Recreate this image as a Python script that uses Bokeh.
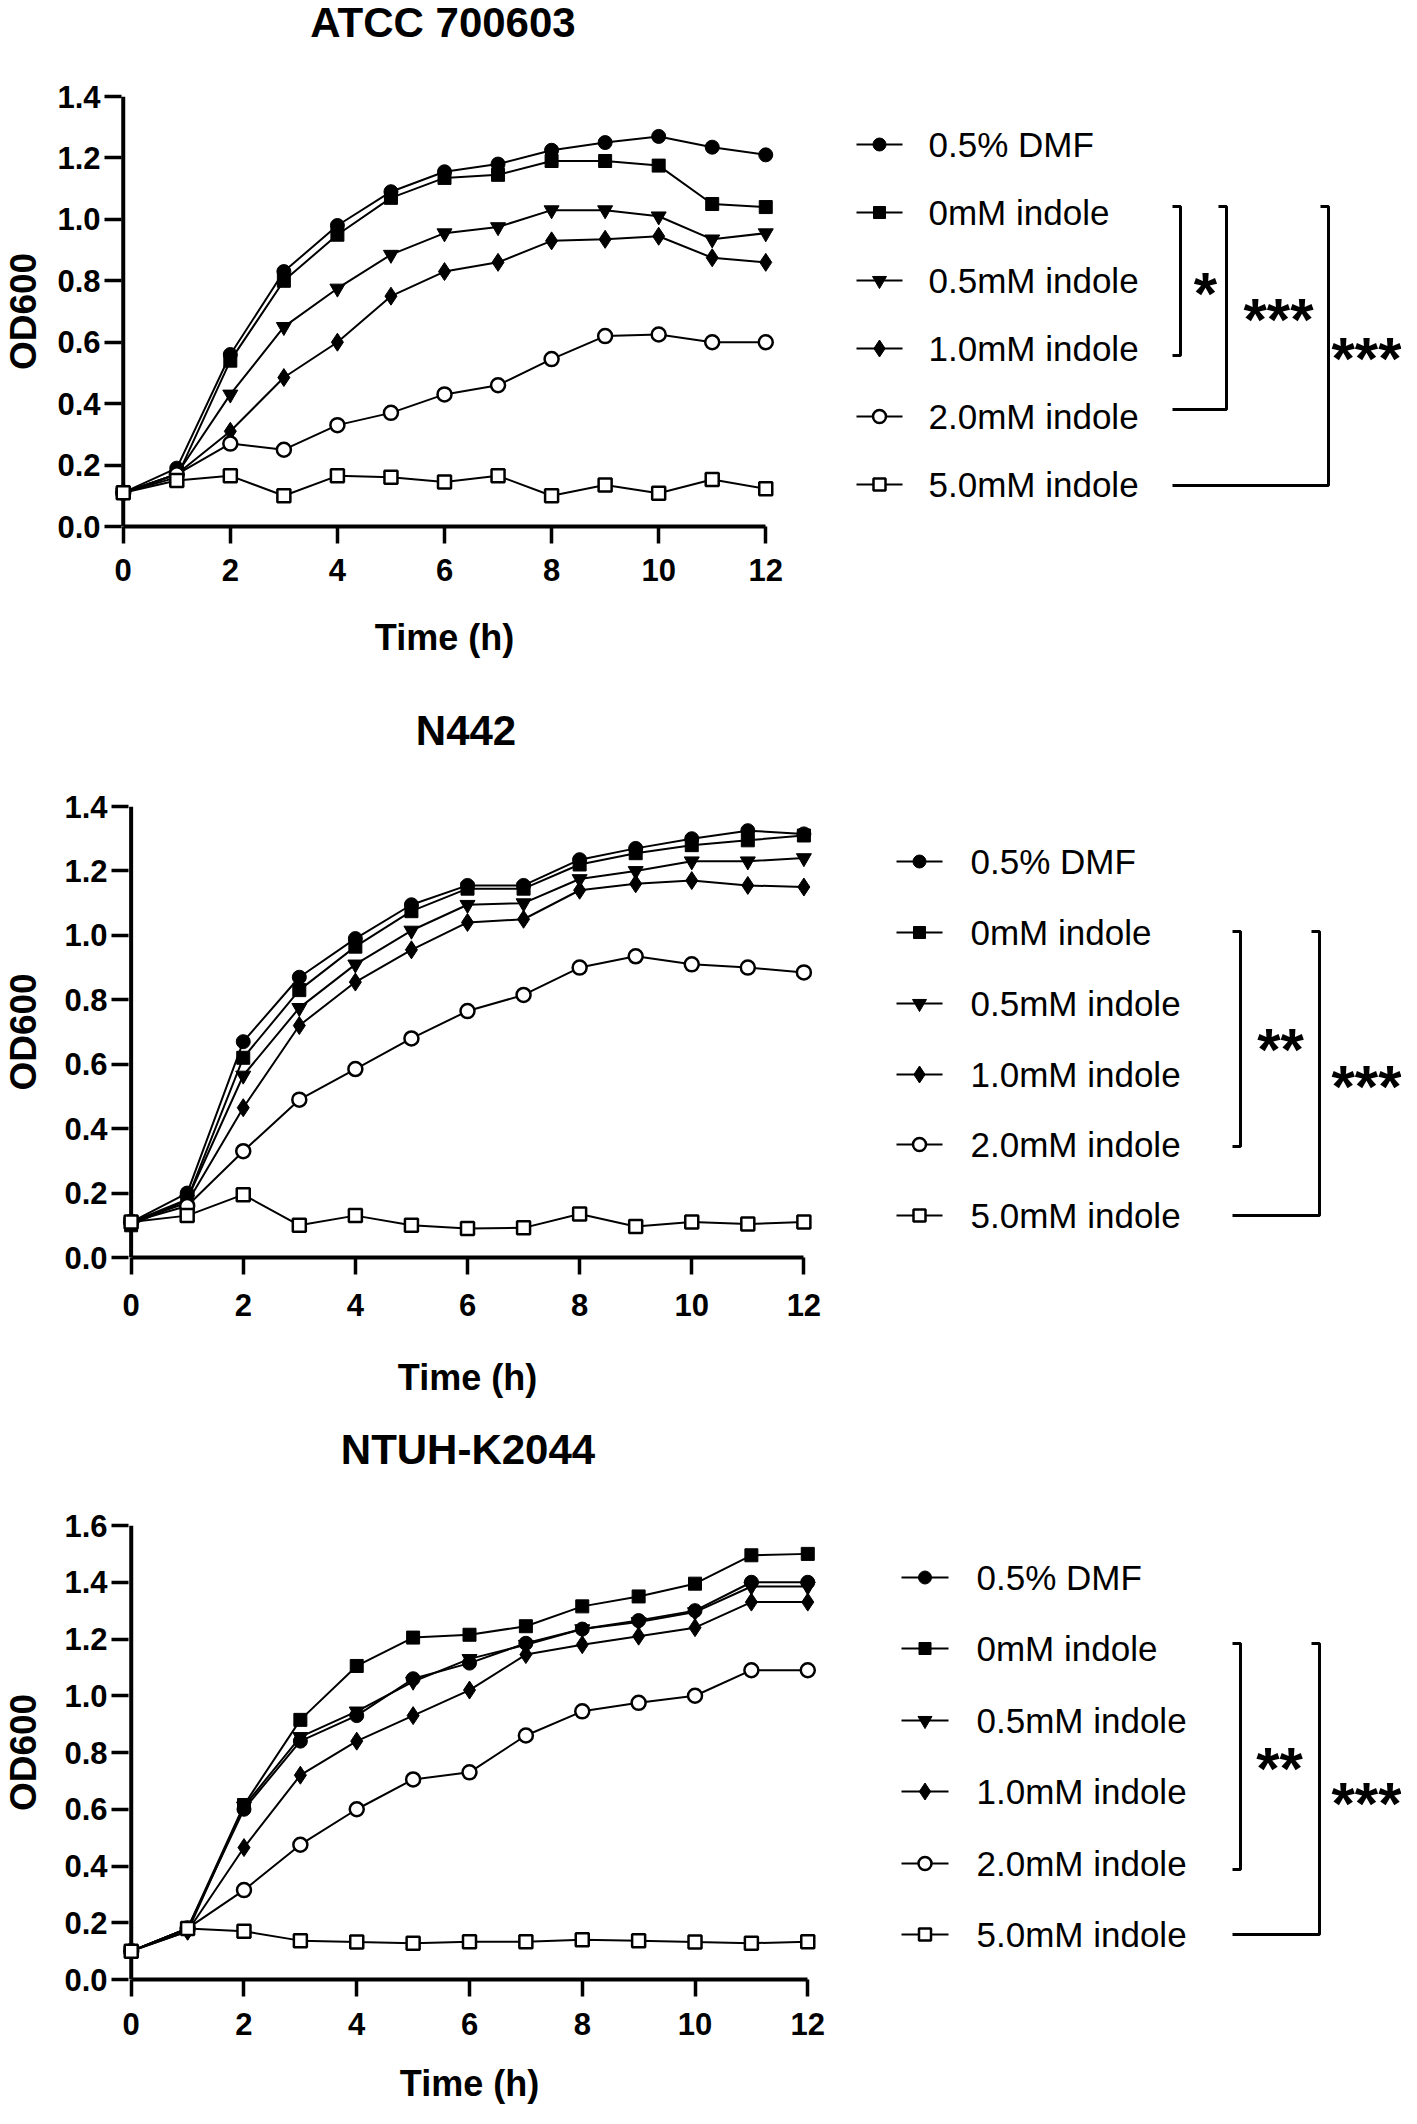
from bokeh.plotting import figure
from bokeh.models import Range1d, FixedTicker, PrintfTickFormatter, Span
from bokeh.layouts import column, row
from bokeh.embed import file_html
from bokeh.resources import INLINE
from bokeh.core.properties import value

# ---------------- data ----------------
hours = list(range(13))
legend_labels = ["0.5% DMF", "0mM indole", "0.5mM indole", "1.0mM indole", "2.0mM indole", "5.0mM indole"]
x_ticks = [0, 2, 4, 6, 8, 10, 12]
y_ticks_14 = [0.0, 0.2, 0.4, 0.6, 0.8, 1.0, 1.2, 1.4]
y_ticks_16 = [0.0, 0.2, 0.4, 0.6, 0.8, 1.0, 1.2, 1.4, 1.6]

atcc_dmf = [0.11, 0.19, 0.56, 0.83, 0.98, 1.09, 1.155, 1.18, 1.225, 1.25, 1.27, 1.235, 1.21]
atcc_i00 = [0.11, 0.16, 0.54, 0.80, 0.95, 1.07, 1.135, 1.145, 1.19, 1.19, 1.175, 1.05, 1.04]
atcc_i05 = [0.11, 0.17, 0.43, 0.65, 0.775, 0.885, 0.955, 0.975, 1.03, 1.03, 1.01, 0.935, 0.955]
atcc_i10 = [0.11, 0.17, 0.31, 0.485, 0.60, 0.75, 0.83, 0.86, 0.93, 0.935, 0.945, 0.875, 0.86]
atcc_i20 = [0.11, 0.17, 0.27, 0.25, 0.33, 0.37, 0.43, 0.46, 0.545, 0.62, 0.625, 0.60, 0.60]
atcc_i50 = [0.11, 0.15, 0.165, 0.10, 0.165, 0.16, 0.145, 0.165, 0.10, 0.135, 0.108, 0.153, 0.123]

n442_dmf = [0.11, 0.20, 0.67, 0.87, 0.99, 1.095, 1.155, 1.155, 1.235, 1.27, 1.30, 1.325, 1.315]
n442_i00 = [0.10, 0.18, 0.62, 0.83, 0.965, 1.075, 1.145, 1.145, 1.22, 1.255, 1.28, 1.295, 1.31]
n442_i05 = [0.11, 0.18, 0.565, 0.775, 0.91, 1.015, 1.095, 1.10, 1.175, 1.20, 1.23, 1.23, 1.24]
n442_i10 = [0.11, 0.17, 0.465, 0.72, 0.855, 0.955, 1.04, 1.05, 1.14, 1.16, 1.17, 1.155, 1.15]
n442_i20 = [0.11, 0.16, 0.33, 0.49, 0.585, 0.68, 0.765, 0.815, 0.90, 0.935, 0.91, 0.90, 0.885]
n442_i50 = [0.11, 0.13, 0.195, 0.10, 0.13, 0.10, 0.09, 0.092, 0.135, 0.096, 0.11, 0.104, 0.11]

ntuh_dmf = [0.10, 0.18, 0.60, 0.84, 0.93, 1.06, 1.115, 1.185, 1.235, 1.265, 1.30, 1.40, 1.40]
ntuh_i00 = [0.10, 0.18, 0.615, 0.915, 1.105, 1.205, 1.215, 1.245, 1.315, 1.35, 1.395, 1.495, 1.50]
ntuh_i05 = [0.10, 0.17, 0.61, 0.855, 0.945, 1.05, 1.13, 1.18, 1.235, 1.26, 1.295, 1.385, 1.385]
ntuh_i10 = [0.10, 0.17, 0.465, 0.72, 0.84, 0.93, 1.02, 1.145, 1.18, 1.21, 1.24, 1.33, 1.33]
ntuh_i20 = [0.10, 0.18, 0.315, 0.475, 0.60, 0.705, 0.73, 0.86, 0.945, 0.975, 1.00, 1.09, 1.09]
ntuh_i50 = [0.10, 0.18, 0.17, 0.137, 0.132, 0.128, 0.133, 0.133, 0.14, 0.137, 0.132, 0.128, 0.133]

atcc_stars = ["*", "***", "***"]
n442_stars = ["**", "***"]
ntuh_stars = ["**", "***"]

# ---------------- style / layout constants ----------------
FONT = "Liberation Sans"
MARKERS = [("circle", 14, True), ("square", 13, True), ("inverted_triangle", 15, True),
           ("diamond", 18, True), ("circle", 14, False), ("square", 13, False)]
ORIGIN = 2  # page origin of the layout, in picture coordinates
TOTAL_W = 1401


def make_title(title, title_y, width, height, left, right, top_ref):
    t = figure(width=width, height=height, x_range=Range1d(-0.35, 12.35),
               y_range=Range1d(top_ref + height, top_ref),
               output_backend="svg", toolbar_location=None,
               min_border_left=left, min_border_right=right, min_border_top=0, min_border_bottom=0,
               x_axis_type=None, y_axis_type=None)
    t.outline_line_color = None
    t.background_fill_color = "white"
    t.border_fill_color = "white"
    t.text(x=[6], y=[title_y], text=[title], text_font=value(FONT), text_font_size=value("42px"),
           text_font_style="bold", text_color="black", text_align="center", text_baseline="middle")
    return t


def make_main(series, y_ticks, ymax, width, height, left, right, top, bottom,
              xlab_standoff, xtitle_standoff, ytitle_standoff):
    p = figure(width=width, height=height, x_range=Range1d(-0.35, 12.35), y_range=Range1d(0, ymax),
               output_backend="svg", toolbar_location=None,
               min_border_left=left, min_border_right=right, min_border_top=top, min_border_bottom=bottom)
    p.outline_line_color = None
    p.xgrid.visible = False
    p.ygrid.visible = False
    p.background_fill_color = "white"
    p.border_fill_color = "white"

    xa = p.xaxis[0]
    xa.ticker = FixedTicker(ticks=x_ticks)
    xa.bounds = (0, 12)
    xa.axis_line_width = 4
    xa.axis_line_color = "black"
    xa.major_tick_line_width = 3.5
    xa.major_tick_out = 17
    xa.major_tick_in = 0
    xa.minor_tick_line_color = None
    xa.major_label_text_font = FONT
    xa.major_label_text_font_size = "31px"
    xa.major_label_text_font_style = "bold"
    xa.major_label_text_color = "black"
    xa.major_label_standoff = xlab_standoff
    xa.axis_label = "Time (h)"
    xa.axis_label_text_font = FONT
    xa.axis_label_text_font_size = "36px"
    xa.axis_label_text_font_style = "bold"
    xa.axis_label_text_color = "black"
    xa.axis_label_standoff = xtitle_standoff

    ya = p.yaxis[0]
    ya.ticker = FixedTicker(ticks=y_ticks)
    ya.formatter = PrintfTickFormatter(format="%.1f")
    ya.axis_line_color = None
    ya.major_tick_line_width = 3.5
    ya.major_tick_in = 17
    ya.major_tick_out = 0
    ya.minor_tick_line_color = None
    ya.major_label_text_font = FONT
    ya.major_label_text_font_size = "31px"
    ya.major_label_text_font_style = "bold"
    ya.major_label_text_color = "black"
    ya.major_label_standoff = 4
    ya.axis_label = "OD600"
    ya.axis_label_text_font = FONT
    ya.axis_label_text_font_size = "37px"
    ya.axis_label_text_font_style = "bold"
    ya.axis_label_text_color = "black"
    ya.axis_label_standoff = ytitle_standoff

    yline = Span(location=0, dimension="height", line_color="black", line_width=4, level="underlay")
    p.add_layout(yline)

    for vals in series:
        p.line(hours, vals, line_color="black", line_width=2)
    for vals, (mk, sz, filled) in zip(series, MARKERS):
        p.scatter(hours, vals, marker=mk, size=sz,
                  fill_color="black" if filled else "white", line_color="black",
                  line_width=1 if filled else 2.5)
    return p


def make_legend(x0, width, height, top, bottom, frame_top, frame_bottom, rows_y,
                line_x0, line_x1, text_x, brackets, stars, star_pos):
    lf = figure(width=width, height=height, x_range=Range1d(x0, x0 + width),
                y_range=Range1d(frame_bottom, frame_top),
                output_backend="svg", toolbar_location=None, min_border_left=0, min_border_right=0,
                min_border_top=top, min_border_bottom=bottom,
                x_axis_type=None, y_axis_type=None)
    lf.outline_line_color = None
    lf.background_fill_color = "white"
    lf.border_fill_color = "white"
    mx = (line_x0 + line_x1) / 2
    for i, (mk, sz, filled) in enumerate(MARKERS):
        y = rows_y[i]
        lf.segment(x0=[line_x0], y0=[y], x1=[line_x1], y1=[y], line_color="black", line_width=2)
        lf.scatter([mx], [y], marker=mk, size=sz - 1,
                   fill_color="black" if filled else "white", line_color="black",
                   line_width=1 if filled else 2.5)
    lf.text(x=[text_x] * len(legend_labels), y=rows_y, text=legend_labels,
            text_font=value(FONT), text_font_size=value("35px"), text_color="black",
            text_baseline="middle", text_align="left")
    for (xt, xv, yt, yb, xb), star, (sx, sy) in zip(brackets, stars, star_pos):
        lf.line([xt, xv, xv, xb], [yt, yt, yb, yb], line_color="black", line_width=3)
        lf.text(x=[sx], y=[sy + 8], text=[star], text_font=value(FONT),
                text_font_size=value("60px"), text_font_style="bold", text_color="black",
                text_baseline="alphabetic", text_align="center")
    return lf


def panel(title, title_top, title_y, series, y_ticks, ymax, frame_left, frame_w, frame_top, frame_h,
          row_top, row_bot, main_w, xlab_standoff, xtitle_standoff, ytitle_standoff,
          rows_y, line_x0, line_x1, text_x, brackets, stars, star_pos):
    left = frame_left - ORIGIN
    right = main_w - left - frame_w
    top = frame_top - row_top
    bottom = row_bot - (frame_top + frame_h)
    height = row_bot - row_top
    t = make_title(title, title_y, main_w, row_top - title_top, left, right, title_top)
    p = make_main(series, y_ticks, ymax, main_w, height, left, right, top, bottom,
                  xlab_standoff, xtitle_standoff, ytitle_standoff)
    lw = TOTAL_W - main_w
    l = make_legend(ORIGIN + main_w, lw, height, top, bottom, frame_top, frame_top + frame_h, rows_y,
                    line_x0, line_x1, text_x, brackets, stars, star_pos)
    return column(t, row(p, l))


r1 = panel("ATCC 700603", ORIGIN, 24, [atcc_dmf, atcc_i00, atcc_i05, atcc_i10, atcc_i20, atcc_i50],
           y_ticks_14, 1.4, 103, 683, 98, 430, 54, 690, 822, 15, 33, 10,
           [146, 214, 282, 350, 418, 486], 858, 904, 930,
           [(1174, 1182, 208, 357, 1174), (1220, 1228, 208, 411, 1174), (1322, 1330, 208, 487, 1174)],
           atcc_stars, [(1207, 287), (1280, 313), (1368, 352)])

r2 = panel("N442", 690, 732, [n442_dmf, n442_i00, n442_i05, n442_i10, n442_i20, n442_i50],
           y_ticks_14, 1.4, 110, 715, 808, 451, 766, 1410, 856, 19, 38, 17,
           [863, 934, 1005, 1076, 1146, 1217], 898, 944, 972,
           [(1234, 1242, 933, 1148, 1234), (1313, 1321, 933, 1217, 1234)],
           n442_stars, [(1282, 1043), (1368, 1080)])

r3 = panel("NTUH-K2044", 1410, 1451, [ntuh_dmf, ntuh_i00, ntuh_i05, ntuh_i10, ntuh_i20, ntuh_i50],
           y_ticks_16, 1.6, 110, 719, 1527, 454, 1490, 2110, 856, 16, 25, 17,
           [1579, 1650, 1722, 1793, 1865, 1936], 903, 950, 978,
           [(1234, 1242, 1645, 1871, 1234), (1313, 1321, 1645, 1936, 1234)],
           ntuh_stars, [(1281, 1762), (1368, 1797)])

layout = column(r1, r2, r3)
open("out.html", "w").write(file_html(layout, INLINE))
